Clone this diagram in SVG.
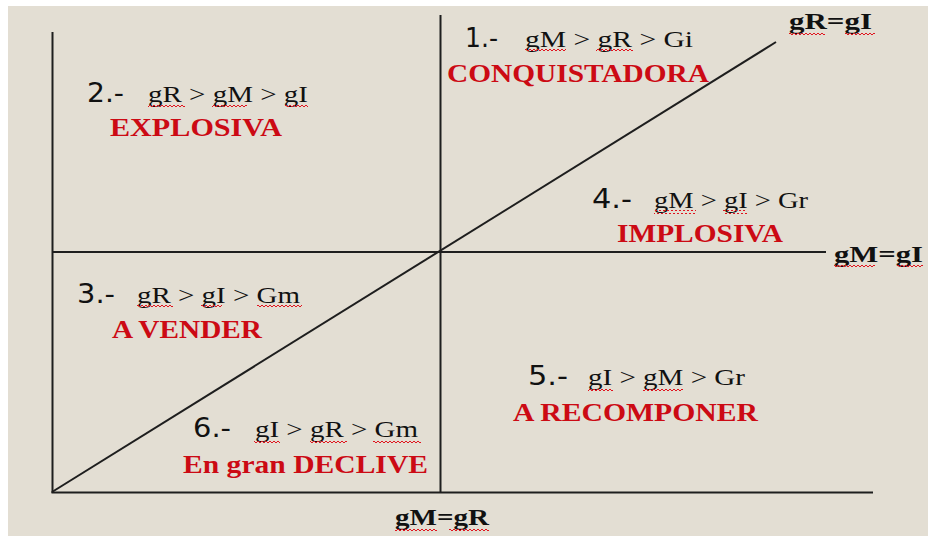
<svg xmlns="http://www.w3.org/2000/svg" width="928" height="536" viewBox="0 0 928 536">
<defs>
<pattern id="wave" width="4" height="4" patternUnits="userSpaceOnUse">
<path d="M0,3 L2,1 L4,3" fill="none" stroke="#E0141E" stroke-width="1"/>
</pattern>
<style>
.num{font-family:"DejaVu Sans","Liberation Sans",sans-serif;font-size:26px;fill:#111}
.rel{font-family:"Liberation Serif","Times New Roman",serif;font-size:24px;fill:#111}
.name{font-family:"Liberation Serif","Times New Roman",serif;font-size:26px;font-weight:bold;fill:#CC0A14}
.axis{font-family:"Liberation Serif","Times New Roman",serif;font-size:24px;font-weight:bold;fill:#111}
.ln{stroke:#1E1E1E;stroke-width:2;fill:none}
.sq{fill:url(#wave)}
</style>
</defs>
<rect x="0" y="0" width="928" height="536" fill="#FFFFFF"/>
<rect x="8" y="6" width="920" height="530" fill="#E3DED3"/>

<g id="connectors">
<line class="ln" x1="52.5" y1="32" x2="52.5" y2="493"/>
<line class="ln" x1="51.5" y1="492.5" x2="873" y2="492.5"/>
<line class="ln" x1="440.5" y1="15" x2="440.5" y2="492"/>
<line class="ln" x1="52" y1="252" x2="826" y2="252"/>
<line class="ln" x1="52" y1="492" x2="776" y2="42" stroke-width="1.6"/>
</g>

<g id="axis-labels">
<text class="axis" x="789" y="29" textLength="83" lengthAdjust="spacingAndGlyphs">gR=gI</text>
<rect class="sq" x="789" y="31" width="36" height="4"/>
<rect class="sq" x="845" y="31" width="30" height="4"/>
<text class="axis" x="834" y="262" textLength="89" lengthAdjust="spacingAndGlyphs">gM=gI</text>
<rect class="sq" x="834" y="263" width="41" height="4"/>
<rect class="sq" x="897" y="263" width="26" height="4"/>
<text class="axis" x="395" y="525" textLength="94" lengthAdjust="spacingAndGlyphs">gM=gR</text>
<rect class="sq" x="395" y="528" width="42" height="4"/>
<rect class="sq" x="449" y="528" width="40" height="4"/>
</g>

<g id="q1">
<text class="num" x="465" y="47" textLength="33" lengthAdjust="spacingAndGlyphs">1.-</text>
<text class="rel" x="525" y="47" textLength="168" lengthAdjust="spacingAndGlyphs">gM &gt; gR &gt; Gi</text>
<rect class="sq" x="525" y="49" width="41" height="4"/>
<rect class="sq" x="596" y="49" width="37" height="4"/>
<text class="name" x="447" y="82" textLength="262" lengthAdjust="spacingAndGlyphs">CONQUISTADORA</text>
</g>

<g id="q2">
<text class="num" x="87" y="102" textLength="37" lengthAdjust="spacingAndGlyphs">2.-</text>
<text class="rel" x="148" y="102" textLength="160" lengthAdjust="spacingAndGlyphs">gR &gt; gM &gt; gI</text>
<rect class="sq" x="148" y="104" width="37" height="4"/>
<rect class="sq" x="212" y="104" width="35" height="4"/>
<rect class="sq" x="285" y="104" width="23" height="4"/>
<text class="name" x="110" y="136" textLength="172" lengthAdjust="spacingAndGlyphs">EXPLOSIVA</text>
</g>

<g id="q3">
<text class="num" x="77" y="303" textLength="38" lengthAdjust="spacingAndGlyphs">3.-</text>
<text class="rel" x="137" y="303" textLength="163" lengthAdjust="spacingAndGlyphs">gR &gt; gI &gt; Gm</text>
<rect class="sq" x="137" y="305" width="36" height="4"/>
<rect class="sq" x="201" y="305" width="21" height="4"/>
<rect class="sq" x="257" y="305" width="45" height="4"/>
<text class="name" x="112" y="338" textLength="150" lengthAdjust="spacingAndGlyphs">A VENDER</text>
</g>

<g id="q4">
<text class="num" x="592" y="208" textLength="40" lengthAdjust="spacingAndGlyphs">4.-</text>
<text class="rel" x="654" y="208" textLength="154" lengthAdjust="spacingAndGlyphs">gM &gt; gI &gt; Gr</text>
<rect class="sq" x="654" y="210" width="42" height="4"/>
<rect class="sq" x="723" y="210" width="24" height="4"/>
<text class="name" x="617" y="242" textLength="166" lengthAdjust="spacingAndGlyphs">IMPLOSIVA</text>
</g>

<g id="q5">
<text class="num" x="528" y="385" textLength="40" lengthAdjust="spacingAndGlyphs">5.-</text>
<text class="rel" x="588" y="385" textLength="157" lengthAdjust="spacingAndGlyphs">gI &gt; gM &gt; Gr</text>
<rect class="sq" x="588" y="387" width="25" height="4"/>
<rect class="sq" x="643" y="387" width="40" height="4"/>
<text class="name" x="513" y="421" textLength="245" lengthAdjust="spacingAndGlyphs">A RECOMPONER</text>
</g>

<g id="q6">
<text class="num" x="193" y="437" textLength="38" lengthAdjust="spacingAndGlyphs">6.-</text>
<text class="rel" x="255" y="437" textLength="163" lengthAdjust="spacingAndGlyphs">gI &gt; gR &gt; Gm</text>
<rect class="sq" x="254" y="439" width="26" height="4"/>
<rect class="sq" x="310" y="439" width="37" height="4"/>
<rect class="sq" x="373" y="439" width="48" height="4"/>
<text class="name" x="183" y="473" textLength="245" lengthAdjust="spacingAndGlyphs">En gran DECLIVE</text>
</g>
</svg>
